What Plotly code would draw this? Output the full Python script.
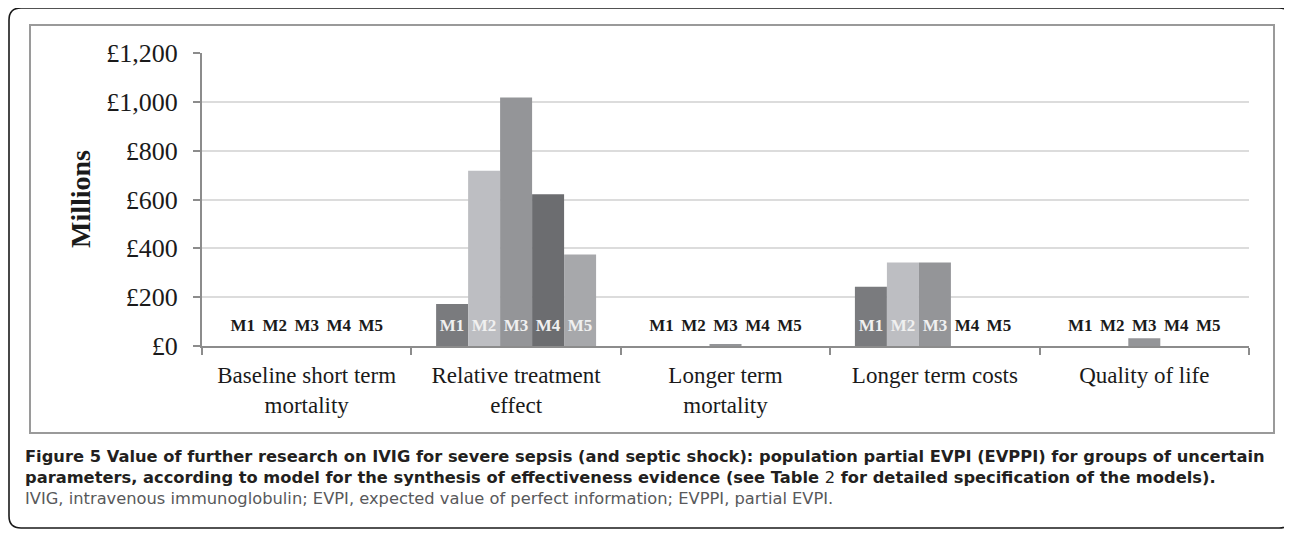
import plotly.graph_objects as go

categories = ["Baseline short term<br>mortality", "Relative treatment<br>effect",
              "Longer term<br>mortality", "Longer term costs", "Quality of life"]
series_names = ["M1", "M2", "M3", "M4", "M5"]
m1 = [0, 172, 0, 243, 0]
m2 = [0, 718, 0, 342, 0]
m3 = [0, 1018, 8, 342, 32]
m4 = [0, 621, 0, 0, 0]
m5 = [0, 375, 0, 0, 0]
y_ticks = [0, 200, 400, 600, 800, 1000, 1200]
y_ticktext = ["£0", "£200", "£400", "£600", "£800", "£1,000", "£1,200"]

series_values = [m1, m2, m3, m4, m5]
colors = ["#7a7b7e", "#bdbec2", "#949598", "#6c6d70", "#a7a8ab"]

# page has an 8px body margin: figure drawn at (8, 8) in the window
OFF = 8
W, H = 1292 - OFF, 533 - OFF
PLOT_X0, PLOT_X1, PLOT_Y0, PLOT_Y1 = 202, 1249, 53, 346   # screen pixels
L, R = PLOT_X0 - OFF, W - (PLOT_X1 - OFF)
T, B = PLOT_Y0 - OFF, H - (PLOT_Y1 - OFF)
PW, PH = PLOT_X1 - PLOT_X0, PLOT_Y1 - PLOT_Y0


def px(x):
    return (x - PLOT_X0) / PW


def py(y):
    return (PLOT_Y1 - y) / PH


BARGAP = 0.236
LABEL_Y = 80

fig = go.Figure()
for name, vals, c in zip(series_names, series_values, colors):
    fig.add_trace(go.Bar(x=categories, y=vals, name=name, marker_color=c,
                         marker_line_width=0, showlegend=False, hoverinfo="y"))

bw = (1 - BARGAP) / len(series_names)
for k, (name, vals) in enumerate(zip(series_names, series_values)):
    xs = [i + (k - (len(series_names) - 1) / 2) * bw for i in range(len(categories))]
    tc = ["#f0f0f0" if v > 100 else "#1a1a1a" for v in vals]
    fig.add_trace(go.Scatter(x=xs, y=[LABEL_Y] * len(vals), mode="text",
                             text=[name] * len(vals), xaxis="x2",
                             textfont=dict(family="Liberation Serif", size=17, color=tc),
                             texttemplate="<b>%{text}</b>",
                             showlegend=False, hoverinfo="skip"))

shapes = []
# inner chart frame
shapes.append(dict(type="rect", xref="paper", yref="paper",
                   x0=px(30), x1=px(1274), y0=py(25), y1=py(433),
                   line=dict(color="#9a9a9a", width=2), layer="below"))
# outer rounded frame
x0, y0, x1, y1, r = 9, 8, 1291, 528, 12
path = (f"M {px(x0 + r)},{py(y0)} L {px(x1 - r)},{py(y0)} "
        f"Q {px(x1)},{py(y0)} {px(x1)},{py(y0 + r)} L {px(x1)},{py(y1 - r)} "
        f"Q {px(x1)},{py(y1)} {px(x1 - r)},{py(y1)} L {px(x0 + r)},{py(y1)} "
        f"Q {px(x0)},{py(y1)} {px(x0)},{py(y1 - r)} L {px(x0)},{py(y0 + r)} "
        f"Q {px(x0)},{py(y0)} {px(x0 + r)},{py(y0)} Z")
shapes.append(dict(type="path", xref="paper", yref="paper", path=path,
                   line=dict(color="#1a1a1a", width=1.6)))

caption = ("<b>Figure 5 Value of further research on IVIG for severe sepsis (and septic shock): "
           "population partial EVPI (EVPPI) for groups of uncertain</b><br>"
           "<b>parameters, according to model for the synthesis of effectiveness evidence "
           "(see Table </b>2<b> for detailed specification of the models).</b><br>"
           "<span style='color:#58595b'>IVIG, intravenous immunoglobulin; EVPI, expected value "
           "of perfect information; EVPPI, partial EVPI.</span>")

annotations = [
    dict(text="<b>Millions</b>", textangle=-90, xref="paper", yref="paper",
         x=px(80), y=py(199), xanchor="center", yanchor="middle", showarrow=False,
         font=dict(family="Liberation Serif", size=28, color="#1a1a1a")),
    dict(text=caption, xref="paper", yref="paper", x=px(23), y=py(477),
         xanchor="left", yanchor="middle", align="left", showarrow=False,
         font=dict(family="DejaVu Sans", size=16.3, color="#231f20")),
]

fig.update_layout(
    width=W, height=H,
    margin=dict(l=L, r=R, t=T, b=B, autoexpand=False),
    paper_bgcolor="white", plot_bgcolor="white",
    barmode="group", bargap=BARGAP, bargroupgap=0,
    shapes=shapes, annotations=annotations,
    xaxis=dict(type="category", tickson="boundaries", ticks="outside", ticklen=7,
               tickwidth=1.5, tickcolor="#8c8c8c", showline=True, linecolor="#8c8c8c",
               linewidth=2, showgrid=False, range=[-0.5, 4.5], ticklabelstandoff=7,
               tickfont=dict(family="Liberation Serif", size=23, color="#1a1a1a")),
    xaxis2=dict(overlaying="x", range=[-0.5, 4.5], visible=False),
    yaxis=dict(range=[0, 1200], tickvals=y_ticks, ticktext=y_ticktext, ticks="outside",
               ticklen=7, tickwidth=1.5, tickcolor="#8c8c8c", showline=True,
               linecolor="#8c8c8c", linewidth=2, showgrid=True, gridcolor="#dcdcdc",
               gridwidth=1.5, zeroline=False, ticklabelstandoff=10,
               tickfont=dict(family="Liberation Serif", size=26, color="#1a1a1a")),
)

fig.write_html("out.html")
